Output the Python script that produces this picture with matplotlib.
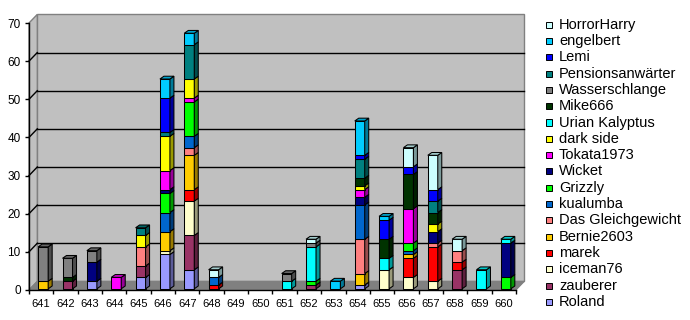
import matplotlib
matplotlib.use('Agg')
import matplotlib.pyplot as plt
from matplotlib.patches import Polygon, Rectangle
import matplotlib.colors as mcolors
import numpy as np

plt.rcParams['font.family'] = ['Liberation Sans', 'DejaVu Sans']

categories = ['641', '642', '643', '644', '645', '646', '647', '648', '649', '650',
              '651', '652', '653', '654', '655', '656', '657', '658', '659', '660']

# series in stacking order (bottom -> top)
roland          = [0, 0, 2, 0, 3, 9, 5, 0, 0, 0, 0, 0, 0, 1, 0, 0, 0, 0, 0, 0]
zauberer        = [0, 2, 0, 0, 3, 0, 9, 0, 0, 0, 0, 1, 0, 0, 0, 0, 0, 5, 0, 0]
iceman76        = [0, 0, 0, 0, 0, 1, 9, 0, 0, 0, 0, 0, 0, 0, 5, 3, 2, 0, 0, 0]
marek           = [0, 0, 0, 0, 0, 0, 3, 1, 0, 0, 0, 0, 0, 0, 0, 5, 9, 2, 0, 0]
bernie2603      = [2, 0, 0, 0, 0, 5, 9, 0, 0, 0, 0, 0, 0, 3, 0, 1, 0, 0, 0, 0]
gleichgewicht   = [0, 0, 0, 0, 5, 0, 2, 0, 0, 0, 0, 0, 0, 9, 0, 0, 1, 3, 0, 0]
kualumba        = [0, 0, 0, 0, 0, 5, 3, 2, 0, 0, 0, 0, 0, 9, 0, 1, 0, 0, 0, 0]
grizzly         = [0, 0, 0, 0, 0, 5, 9, 0, 0, 0, 0, 1, 0, 0, 0, 2, 0, 0, 0, 3]
wicket          = [0, 0, 5, 0, 0, 1, 0, 0, 0, 0, 0, 0, 0, 2, 0, 0, 3, 0, 0, 9]
tokata1973      = [0, 0, 0, 3, 0, 5, 1, 0, 0, 0, 0, 0, 0, 2, 0, 9, 0, 0, 0, 0]
dark_side       = [0, 0, 0, 0, 3, 9, 5, 0, 0, 0, 0, 0, 0, 1, 0, 0, 2, 0, 0, 0]
urian_kalyptus  = [0, 0, 0, 0, 0, 0, 0, 0, 0, 0, 2, 9, 0, 0, 3, 0, 0, 0, 5, 1]
mike666         = [0, 1, 0, 0, 0, 0, 0, 0, 0, 0, 0, 0, 0, 2, 5, 9, 3, 0, 0, 0]
wasserschlange  = [9, 5, 3, 0, 0, 0, 0, 0, 0, 0, 2, 1, 0, 0, 0, 0, 0, 0, 0, 0]
pensionsanw     = [0, 0, 0, 0, 2, 1, 9, 0, 0, 0, 0, 0, 0, 5, 0, 0, 3, 0, 0, 0]
lemi            = [0, 0, 0, 0, 0, 9, 0, 0, 0, 0, 0, 0, 0, 1, 5, 2, 3, 0, 0, 0]
engelbert       = [0, 0, 0, 0, 0, 5, 3, 0, 0, 0, 0, 0, 2, 9, 1, 0, 0, 0, 0, 0]
horrorharry     = [0, 0, 0, 0, 0, 0, 0, 2, 0, 0, 0, 1, 0, 0, 0, 5, 9, 3, 0, 0]

series_names = ['Roland', 'zauberer', 'iceman76', 'marek', 'Bernie2603', 'Das Gleichgewicht',
                'kualumba', 'Grizzly', 'Wicket', 'Tokata1973', 'dark side', 'Urian Kalyptus',
                'Mike666', 'Wasserschlange', 'Pensionsanwärter', 'Lemi', 'engelbert', 'HorrorHarry']
series_values = [roland, zauberer, iceman76, marek, bernie2603, gleichgewicht, kualumba, grizzly,
                 wicket, tokata1973, dark_side, urian_kalyptus, mike666, wasserschlange,
                 pensionsanw, lemi, engelbert, horrorharry]
series_colors = ['#9999FF', '#993366', '#FFFFCC', '#FF0000', '#FFCC00', '#FF8080',
                 '#0066CC', '#00FF00', '#000080', '#FF00FF', '#FFFF00', '#00FFFF',
                 '#003300', '#808080', '#008080', '#0000FF', '#00CCFF', '#CCFFFF']
y_ticks = [0, 10, 20, 30, 40, 50, 60, 70]

W, H = 690, 320
fig = plt.figure(figsize=(W / 100, H / 100), dpi=100)
ax_l, ax_r = 29, 516
ax_b, ax_t = 290, 23
ax = fig.add_axes([ax_l / W, (H - ax_b) / H, (ax_r - ax_l) / W, (ax_b - ax_t) / H])
n = len(categories)
ax.set_xlim(0, n)
ax.set_ylim(0, 70)
ax.patch.set_visible(False)

fig.canvas.draw()
inv = ax.transData.inverted()


def off(x, y, dx, dy):
    p = ax.transData.transform((x, y)) + np.array([dx, dy])
    return tuple(inv.transform(p))


WD = (8.3, 8.6)   # wall depth in px
BD = (4.0, 2.8)   # bar depth in px

# walls
back = [off(0, 0, *WD), off(n, 0, *WD), off(n, 70, *WD), off(0, 70, *WD)]
ax.add_patch(Polygon(back, closed=True, facecolor='#C0C0C0', edgecolor='#808080',
                     lw=1, zorder=0.5, clip_on=False))
left = [(0, 0), (0, 70), off(0, 70, *WD), off(0, 0, *WD)]
ax.add_patch(Polygon(left, closed=True, facecolor='#C0C0C0', edgecolor='#808080',
                     lw=1, zorder=0.5, clip_on=False))
for v in y_ticks[1:-1]:
    a = off(0, v, *WD)
    b = off(n, v, *WD)
    ax.plot([a[0], b[0]], [a[1], b[1]], color='black', lw=1, zorder=0.6, clip_on=False)
    ax.plot([0, a[0]], [v, a[1]], color='black', lw=1, zorder=0.6, clip_on=False)
floor = [(0, 0), (n, 0), off(n, 0, *WD), off(0, 0, *WD)]
ax.add_patch(Polygon(floor, closed=True, facecolor='#808080', edgecolor='#808080',
                     lw=0.8, zorder=0.7, clip_on=False))


def shade(c, f):
    r, g, b = mcolors.to_rgb(c)
    return (r * f, g * f, b * f)


bar_w = 0.41
shift_x = off(0, 0, 2.0, 1.2)
sx, sy = shift_x[0], shift_x[1]
for i in range(n):
    xc = i + 0.5 + sx
    x0, x1 = xc - bar_w / 2, xc + bar_w / 2
    bottom = sy
    segs = [(vals[i], col) for vals, col in zip(series_values, series_colors) if vals[i] > 0]
    for k, (v, col) in enumerate(segs):
        ax.bar(xc, v, bar_w, bottom=bottom, color=col, edgecolor='black', lw=0.75, zorder=3)
        side = [(x1, bottom), (x1, bottom + v), off(x1, bottom + v, *BD), off(x1, bottom, *BD)]
        ax.add_patch(Polygon(side, closed=True, facecolor=shade(col, 0.6),
                             edgecolor='black', lw=0.75, zorder=3))
        if k == len(segs) - 1:
            top = bottom + v
            tp = [(x0, top), (x1, top), off(x1, top, *BD), off(x0, top, *BD)]
            ax.add_patch(Polygon(tp, closed=True, facecolor=shade(col, 0.8),
                                 edgecolor='black', lw=0.75, zorder=3))
        bottom += v

# axes
for s in ['top', 'right']:
    ax.spines[s].set_visible(False)
for s in ['left', 'bottom']:
    ax.spines[s].set_color('black')
    ax.spines[s].set_linewidth(1)
    ax.spines[s].set_zorder(5)
ax.set_yticks(y_ticks)
ax.set_yticklabels([str(t) for t in y_ticks])
ax.tick_params(axis='y', direction='out', length=3, width=1, pad=3, labelsize=8.5)
ax.set_xticks(np.arange(0, n + 1))
ax.set_xticklabels([])
ax.set_xticks(np.arange(n) + 0.5, minor=True)
ax.set_xticklabels(categories, minor=True)
ax.tick_params(axis='x', which='major', direction='out', length=3, width=1)
ax.tick_params(axis='x', which='minor', length=0, pad=6.5, labelsize=8)

# legend
leg_top, leg_step = 24.7, 16.3
for k, (name, col) in enumerate(zip(series_names[::-1], series_colors[::-1])):
    yc = leg_top + k * leg_step
    fig.patches.append(Rectangle((546 / W, 1 - (yc + 3) / H), 6 / W, 6 / H,
                                 transform=fig.transFigure, facecolor=col,
                                 edgecolor='black', lw=0.7))
    fig.text(559 / W, 1 - yc / H, name, va='center', ha='left', fontsize=10.5)

fig.savefig('out.png', dpi=100)
